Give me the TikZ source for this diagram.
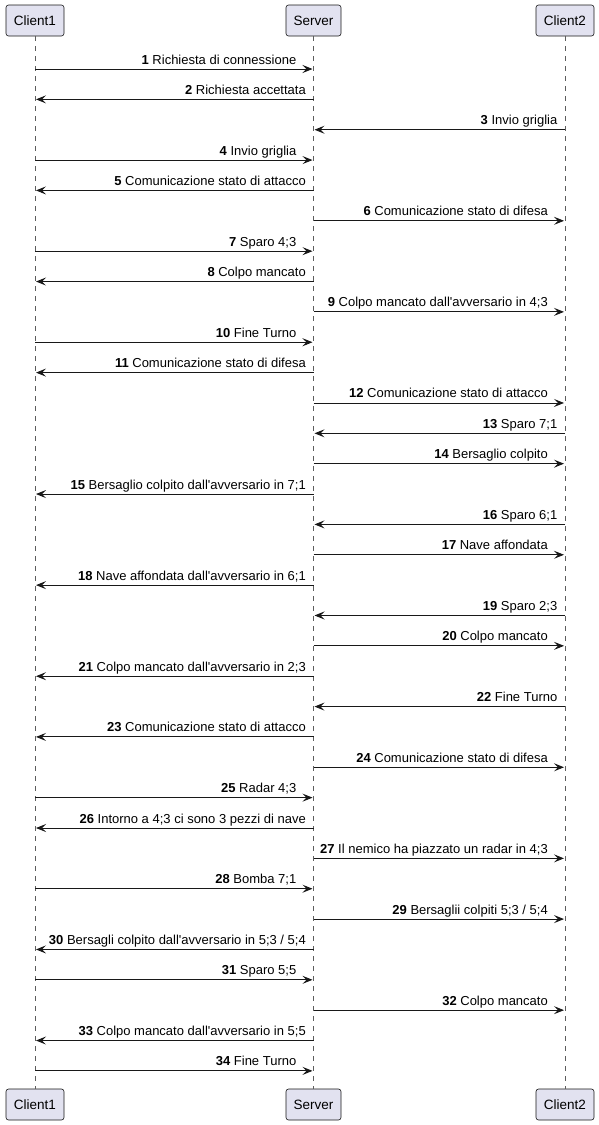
\documentclass[tikz,border=0pt]{standalone}
\usepackage{fontspec}
\setmainfont{Liberation Sans}[Ligatures=TeXOff]
\usetikzlibrary{arrows.meta}
\definecolor{partfill}{HTML}{E2E2F0}
\definecolor{linec}{HTML}{181818}
\tikzset{
  participant/.style={draw=linec, fill=partfill, rounded corners=2.5pt, line width=0.6pt,
    minimum height=31pt, inner sep=0pt, font=\fontsize{13.5}{16}\selectfont},
  lifeline/.style={draw=linec!70, line width=0.6pt, dash pattern=on 5pt off 5pt},
  msgarrow/.style={draw=linec, line width=0.9pt, -{Stealth[length=10pt,width=8pt,inset=4pt]}, shorten >=1pt},
  msglabel/.style={inner sep=0pt, anchor=base east, font=\fontsize{13}{15}\selectfont, text=black},
}
\newcommand\msgR[4]{% rightward: right end is the target
  \draw[msgarrow] (#2-#1) -- (#3-#1);
  \node[msglabel, xshift=-17pt, yshift=5pt] (lab#1) at (#3-#1) {\textbf{#1} #4};
}
\newcommand\msgL[4]{% leftward: right end is the source
  \draw[msgarrow] (#2-#1) -- (#3-#1);
  \node[msglabel, xshift=-7.5pt, yshift=5pt] (lab#1) at (#2-#1) {\textbf{#1} #4};
}
\begin{document}
\begin{tikzpicture}[x=1pt, y=-1pt]
\useasboundingbox (0,0) rectangle (599,1125);
% participants
\node[participant, minimum width=58pt] (c1top) at (35,20.5) {Client1};
\node[participant, minimum width=55pt] (stop) at (313.5,20.5) {Server};
\node[participant, minimum width=58pt] (c2top) at (565,20.5) {Client2};
\node[participant, minimum width=58pt] (c1bot) at (35,1104.5) {Client1};
\node[participant, minimum width=55pt] (sbot) at (313.5,1104.5) {Server};
\node[participant, minimum width=58pt] (c2bot) at (565,1104.5) {Client2};
% lifelines
\draw[lifeline] (c1top.south) -- (c1bot.north);
\draw[lifeline] (stop.south) -- (sbot.north);
\draw[lifeline] (c2top.south) -- (c2bot.north);
% anchor points on lifelines
\foreach \k in {1,...,34} {
  \pgfmathsetmacro\yy{69+(\k-1)*30.36}
  \coordinate (c1-\k) at (35,\yy);
  \coordinate (s-\k) at (313.5,\yy);
  \coordinate (c2-\k) at (565,\yy);
}
\msgR{1}{c1}{s}{Richiesta di connessione}
\msgL{2}{s}{c1}{Richiesta accettata}
\msgL{3}{c2}{s}{Invio griglia}
\msgR{4}{c1}{s}{Invio griglia}
\msgL{5}{s}{c1}{Comunicazione stato di attacco}
\msgR{6}{s}{c2}{Comunicazione stato di difesa}
\msgR{7}{c1}{s}{Sparo 4;3}
\msgL{8}{s}{c1}{Colpo mancato}
\msgR{9}{s}{c2}{Colpo mancato dall'avversario in 4;3}
\msgR{10}{c1}{s}{Fine Turno}
\msgL{11}{s}{c1}{Comunicazione stato di difesa}
\msgR{12}{s}{c2}{Comunicazione stato di attacco}
\msgL{13}{c2}{s}{Sparo 7;1}
\msgR{14}{s}{c2}{Bersaglio colpito}
\msgL{15}{s}{c1}{Bersaglio colpito dall'avversario in 7;1}
\msgL{16}{c2}{s}{Sparo 6;1}
\msgR{17}{s}{c2}{Nave affondata}
\msgL{18}{s}{c1}{Nave affondata dall'avversario in 6;1}
\msgL{19}{c2}{s}{Sparo 2;3}
\msgR{20}{s}{c2}{Colpo mancato}
\msgL{21}{s}{c1}{Colpo mancato dall'avversario in 2;3}
\msgL{22}{c2}{s}{Fine Turno}
\msgL{23}{s}{c1}{Comunicazione stato di attacco}
\msgR{24}{s}{c2}{Comunicazione stato di difesa}
\msgR{25}{c1}{s}{Radar 4;3}
\msgL{26}{s}{c1}{Intorno a 4;3 ci sono 3 pezzi di nave}
\msgR{27}{s}{c2}{Il nemico ha piazzato un radar in 4;3}
\msgR{28}{c1}{s}{Bomba 7;1}
\msgR{29}{s}{c2}{Bersaglii colpiti 5;3 / 5;4}
\msgL{30}{s}{c1}{Bersagli colpito dall'avversario in 5;3 / 5;4}
\msgR{31}{c1}{s}{Sparo 5;5}
\msgR{32}{s}{c2}{Colpo mancato}
\msgL{33}{s}{c1}{Colpo mancato dall'avversario in 5;5}
\msgR{34}{c1}{s}{Fine Turno}
\end{tikzpicture}
\end{document}
